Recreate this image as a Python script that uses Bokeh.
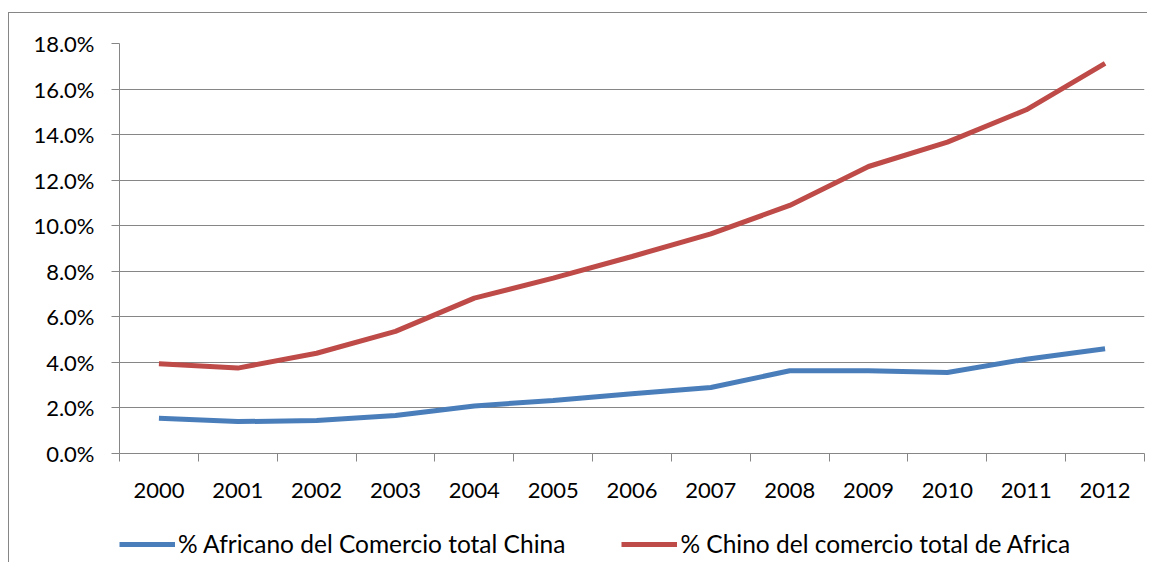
from bokeh.plotting import figure
from bokeh.layouts import column
from bokeh.models import (ColumnDataSource, FixedTicker, PrintfTickFormatter,
                          BasicTickFormatter, Legend, LegendItem, Range1d)
from bokeh.embed import file_html
from bokeh.resources import INLINE

years = [2000, 2001, 2002, 2003, 2004, 2005, 2006, 2007, 2008, 2009, 2010, 2011, 2012]
africa_share_china = [1.55, 1.40, 1.45, 1.67, 2.09, 2.33, 2.62, 2.90, 3.63, 3.63, 3.56, 4.14, 4.60]
china_share_africa = [3.94, 3.75, 4.40, 5.36, 6.82, 7.70, 8.65, 9.64, 10.89, 12.60, 13.67, 15.09, 17.13]
series_names = ["% Africano del Comercio total China", "% Chino del comercio total de Africa"]
colors = ["#4A7EBB", "#BE4B48"]
y_ticks = [0, 2, 4, 6, 8, 10, 12, 14, 16, 18]

FONT = "Lato"
GRAY = "#868686"

src = ColumnDataSource(dict(x=years, a=africa_share_china, c=china_share_africa))

p = figure(width=1138, height=500, output_backend="svg", toolbar_location=None,
           x_range=Range1d(years[0] - 0.5, years[-1] + 0.5), y_range=Range1d(0, 18),
           min_border_left=110, min_border_top=30, min_border_right=3, min_border_bottom=60)
p.background_fill_color = "white"
p.border_fill_color = "white"
p.outline_line_color = None

p.line("x", "a", source=src, line_color=colors[0], line_width=5)
p.line("x", "c", source=src, line_color=colors[1], line_width=5)

# x axis: labels at categories, tick marks between categories
p.xaxis.ticker = FixedTicker(ticks=years, minor_ticks=[y - 0.5 for y in years] + [years[-1] + 0.5])
p.xaxis.formatter = BasicTickFormatter(use_scientific=False)
p.xaxis.major_tick_out = 0
p.xaxis.major_tick_in = 0
p.xaxis.minor_tick_out = 8
p.xaxis.minor_tick_in = 0
p.xaxis.minor_tick_line_color = GRAY
p.xaxis.minor_tick_line_width = 1
p.xaxis.major_label_standoff = 21
p.xgrid.grid_line_color = None

p.yaxis.ticker = FixedTicker(ticks=y_ticks, minor_ticks=[])
p.yaxis.formatter = PrintfTickFormatter(format="%.1f%%")
p.yaxis.major_tick_out = 8
p.yaxis.major_tick_in = 0
p.yaxis.major_tick_line_color = GRAY
p.yaxis.major_label_standoff = 17
p.ygrid.grid_line_color = GRAY
p.ygrid.grid_line_width = 1

for ax in (p.xaxis, p.yaxis):
    ax.axis_line_color = GRAY
    ax.axis_line_width = 1
    ax.major_label_text_font = FONT
    ax.major_label_text_font_size = "22px"
    ax.major_label_text_color = "black"

# legend strip below the chart (proxy lines hold no drawable points)
pl = figure(width=1138, height=49, output_backend="svg", toolbar_location=None,
            x_range=Range1d(0, 1), y_range=Range1d(0, 1),
            x_axis_location=None, y_axis_location=None, min_border=0)
pl.grid.visible = False
pl.outline_line_color = None
pl.background_fill_color = "white"
pl.border_fill_color = "white"
nan = float("nan")
k1 = pl.line(x=[nan], y=[nan], line_color=colors[0], line_width=5)
k2 = pl.line(x=[nan], y=[nan], line_color=colors[1], line_width=5)
legend = Legend(items=[LegendItem(label=series_names[0], renderers=[k1]),
                       LegendItem(label=series_names[1], renderers=[k2])],
                orientation="horizontal", location=(0, 4),
                label_text_font=FONT, label_text_font_size="24.5px", label_text_color="black",
                glyph_width=56, label_standoff=3, spacing=56,
                border_line_color=None, background_fill_alpha=0,
                margin=0, padding=2)
pl.add_layout(legend, "center")

layout = column(p, pl, spacing=0,
                styles={"border-left": "1px solid #868686", "border-top": "1px solid #868686",
                        "margin-left": "8px", "margin-top": "12px"})

open("out.html", "w").write(file_html(layout, INLINE))
